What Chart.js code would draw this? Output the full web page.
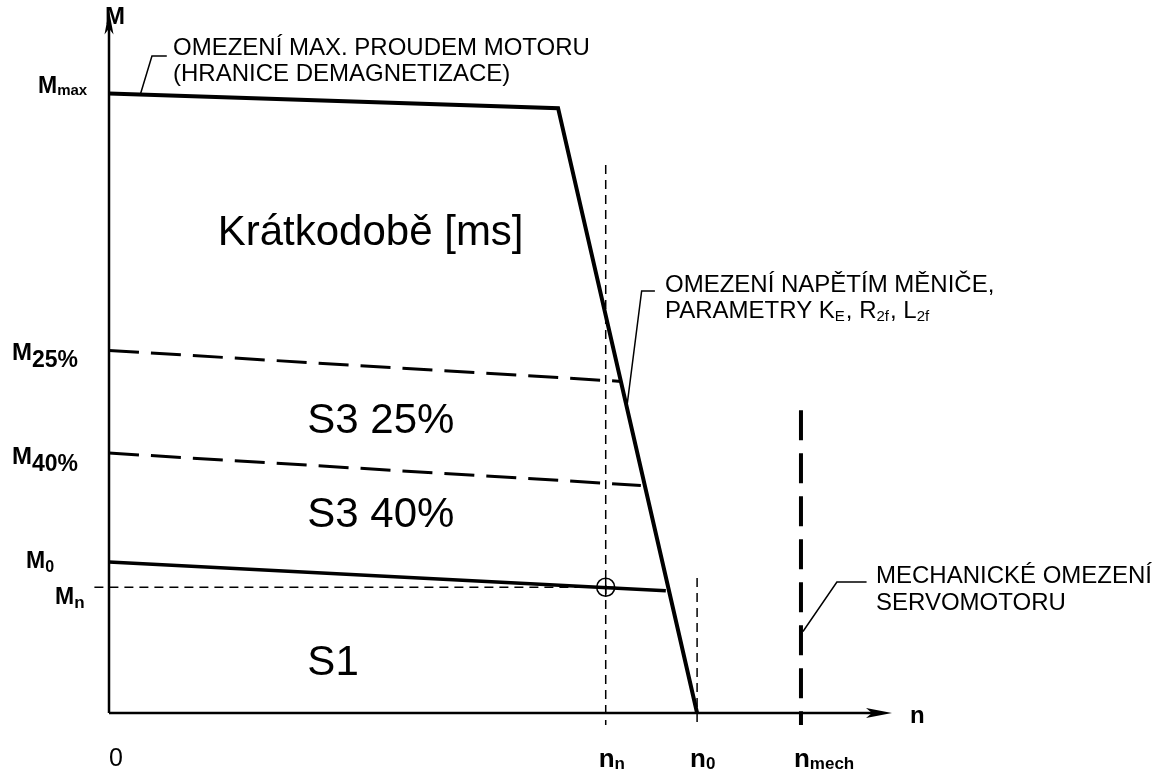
<!DOCTYPE html>
<html>
<head>
<meta charset="utf-8">
<script src="https://cdn.jsdelivr.net/npm/chart.js@4"></script>
<style>
  html, body { margin: 0; padding: 0; background: #fff; }
  #wrap { width: 1164px; height: 778px; }
</style>
</head>
<body>
<div id="wrap"><canvas id="chart" width="1164" height="778"></canvas></div>
<script>
// speed axis marks (n) and torque levels (M), relative units 0..100
const nTickValues = [0, 63.6, 75.3, 88.6];
const nTickSubs = ['', 'n', '0', 'mech'];
const mTickValues = [88.2, 51.6, 37.0, 21.5, 17.9];
const mTickSubs = ['max', '25%', '40%', '0', 'n'];

// limit curves: max current + converter voltage, S3 25 %, S3 40 %, S1
const peakN = [0, 57.5, 75.3];
const peakM = [88.2, 86.1, 0];
const s3q25N = [0, 65.6];
const s3q25M = [51.6, 47.2];
const s3q40N = [0, 68.1];
const s3q40M = [37.0, 32.4];
const s1N = [0, 71.3];
const s1M = [21.5, 17.4];

// upper ends of the vertical guides at n_n, n_0, n_mech
const guideTops = [78.0, 19.2, 43.1];
const tickOut = 1.7;

const pts = (xs, ys) => xs.map((x, i) => ({ x: x, y: ys[i] }));

function line(data, width, dash) {
    return {
        data: data,
        showLine: true,
        borderColor: '#000',
        borderWidth: width,
        borderDash: dash || [],
        borderCapStyle: 'butt',
        borderJoinStyle: 'miter',
        pointRadius: 0,
        clip: false
    };
}

const nn = nTickValues[1], n0 = nTickValues[2], nmech = nTickValues[3];
const Mn = mTickValues[4];

function runs(ctx, x, y, parts, font, subFont, drop) {
    ctx.textAlign = 'left';
    ctx.textBaseline = 'alphabetic';
    let cx = x;
    parts.forEach(p => {
        ctx.font = p[1] ? subFont : font;
        ctx.fillText(p[0], cx, p[1] ? y + drop : y);
        cx += ctx.measureText(p[0]).width + (p[1] ? 1 : 0);
    });
    return cx - x;
}

const drawing = {
    id: 'drawing',
    afterDraw(chart) {
        const ctx = chart.ctx;
        const sx = chart.scales.x, sy = chart.scales.y;
        const X = v => sx.getPixelForValue(v);
        const Y = v => sy.getPixelForValue(v);
        const ox = X(0), oy = Y(0);
        ctx.save();
        ctx.fillStyle = '#000';
        ctx.strokeStyle = '#000';

        // axes
        ctx.lineWidth = 2.5;
        ctx.beginPath();
        ctx.moveTo(ox, oy); ctx.lineTo(X(100) - 10, oy);
        ctx.moveTo(ox, oy); ctx.lineTo(ox, Y(100) + 10);
        ctx.stroke();
        // arrow heads
        const ax = X(100), ay = Y(100);
        ctx.beginPath();
        ctx.moveTo(ax + 2, oy); ctx.lineTo(ax - 24, oy - 5); ctx.lineTo(ax - 18, oy); ctx.lineTo(ax - 24, oy + 5);
        ctx.closePath(); ctx.fill();
        ctx.beginPath();
        ctx.moveTo(ox, ay); ctx.lineTo(ox - 4.5, ay + 24); ctx.lineTo(ox, ay + 18); ctx.lineTo(ox + 4.5, ay + 24);
        ctx.closePath(); ctx.fill();

        // axis names
        ctx.font = 'bold 24px "Liberation Sans"';
        ctx.textAlign = 'left';
        ctx.fillText('M', ox - 4, 24);
        ctx.fillText('n', ax + 20, oy + 10);

        // torque labels
        const mFont = [
            ['bold 23px "Liberation Sans"', 'bold 15px "Liberation Sans"', 2, 38],
            ['bold 24px "Liberation Sans"', 'bold 23px "Liberation Sans"', 7, 12],
            ['bold 24px "Liberation Sans"', 'bold 23px "Liberation Sans"', 7, 12],
            ['bold 23px "Liberation Sans"', 'bold 16px "Liberation Sans"', 4, 26],
            ['bold 23px "Liberation Sans"', 'bold 17px "Liberation Sans"', 4, 55]
        ];
        const mBase = [0, 9, 11, 6, 17];
        mTickValues.forEach((v, i) => {
            const f = mFont[i];
            runs(ctx, f[3], Y(v) + mBase[i], [['M', false], [mTickSubs[i], true]], f[0], f[1], f[2]);
        });

        // speed labels
        ctx.font = '25px "Liberation Sans"';
        ctx.textAlign = 'center';
        ctx.fillText('0', X(0) + 7, oy + 53);
        nTickValues.forEach((v, i) => {
            if (i === 0) return;
            runs(ctx, X(v) - 7, oy + 54, [['n', false], [nTickSubs[i], true]],
                'bold 26px "Liberation Sans"', 'bold 17px "Liberation Sans"', 2);
        });

        // region names
        ctx.font = '42px "Liberation Sans"';
        ctx.textAlign = 'center';
        ctx.fillText('Krátkodobě [ms]', X(33.5), Y(66.6));
        ctx.fillText('S3 25%', X(34.8), Y(39.8));
        ctx.fillText('S3 40%', X(34.8), Y(26.5));
        ctx.textAlign = 'left';
        ctx.fillText('S1', X(25.4), Y(5.4));

        // notes with leader lines
        ctx.lineWidth = 1.5;
        ctx.beginPath();
        ctx.moveTo(X(4), Y(88.0)); ctx.lineTo(X(5.5), 56); ctx.lineTo(X(7.4), 56);
        ctx.moveTo(X(66.3), Y(43.5)); ctx.lineTo(X(68.2), 291); ctx.lineTo(X(69.9), 291);
        ctx.moveTo(X(nmech) + 2, Y(11.6)); ctx.lineTo(X(93.2), 582); ctx.lineTo(X(97), 582);
        ctx.stroke();

        const noteFont = '24px "Liberation Sans"';
        const noteSub = '15px "Liberation Sans"';
        runs(ctx, 173, 55, [['OMEZENÍ MAX. PROUDEM MOTORU', false]], noteFont, noteSub, 0);
        runs(ctx, 173, 81, [['(HRANICE DEMAGNETIZACE)', false]], noteFont, noteSub, 0);
        runs(ctx, 665, 292, [['OMEZENÍ NAPĚTÍM MĚNIČE,', false]], noteFont, noteSub, 0);
        runs(ctx, 665, 318, [['PARAMETRY K', false], ['E', true], [', R', false], ['2f', true], [', L', false], ['2f', true]],
            noteFont, noteSub, 3);
        runs(ctx, 876, 583, [['MECHANICKÉ OMEZENÍ', false]], noteFont, noteSub, 0);
        runs(ctx, 876, 610, [['SERVOMOTORU', false]], noteFont, noteSub, 0);

        ctx.restore();
    }
};

new Chart(document.getElementById('chart'), {
    type: 'scatter',
    data: {
        datasets: [
            line(pts([nn, nn], [guideTops[0], -tickOut]), 1.5, [9, 6]),
            line(pts([n0, n0], [guideTops[1], -tickOut]), 1.5, [9, 6]),
            line(pts([nmech, nmech], [guideTops[2], -tickOut]), 4, [30, 13]),
            line(pts([-tickOut * 1.1, nn], [Mn, Mn]), 1.5, [9, 6]),
            line(pts(peakN, peakM), 4),
            line(pts(s3q25N, s3q25M), 3, [30, 12]),
            line(pts(s3q40N, s3q40M), 3, [30, 12]),
            line(pts(s1N, s1M), 3.5),
            {
                data: [{ x: nn, y: Mn }],
                pointStyle: 'circle',
                pointRadius: 9,
                pointBorderWidth: 1.5,
                pointBorderColor: '#000',
                pointBackgroundColor: 'rgba(0,0,0,0)',
                clip: false
            },
            {
                data: [{ x: nn, y: Mn }],
                pointStyle: 'cross',
                pointRadius: 9,
                pointBorderWidth: 1.5,
                pointBorderColor: '#000',
                clip: false
            }
        ]
    },
    options: {
        responsive: false,
        animation: false,
        events: [],
        layout: { padding: { left: 109, right: 274, top: 10, bottom: 65 } },
        plugins: { legend: { display: false }, tooltip: { enabled: false } },
        scales: {
            x: { type: 'linear', min: 0, max: 100, display: false },
            y: { type: 'linear', min: 0, max: 100, display: false }
        }
    },
    plugins: [drawing]
});
</script>
</body>
</html>
